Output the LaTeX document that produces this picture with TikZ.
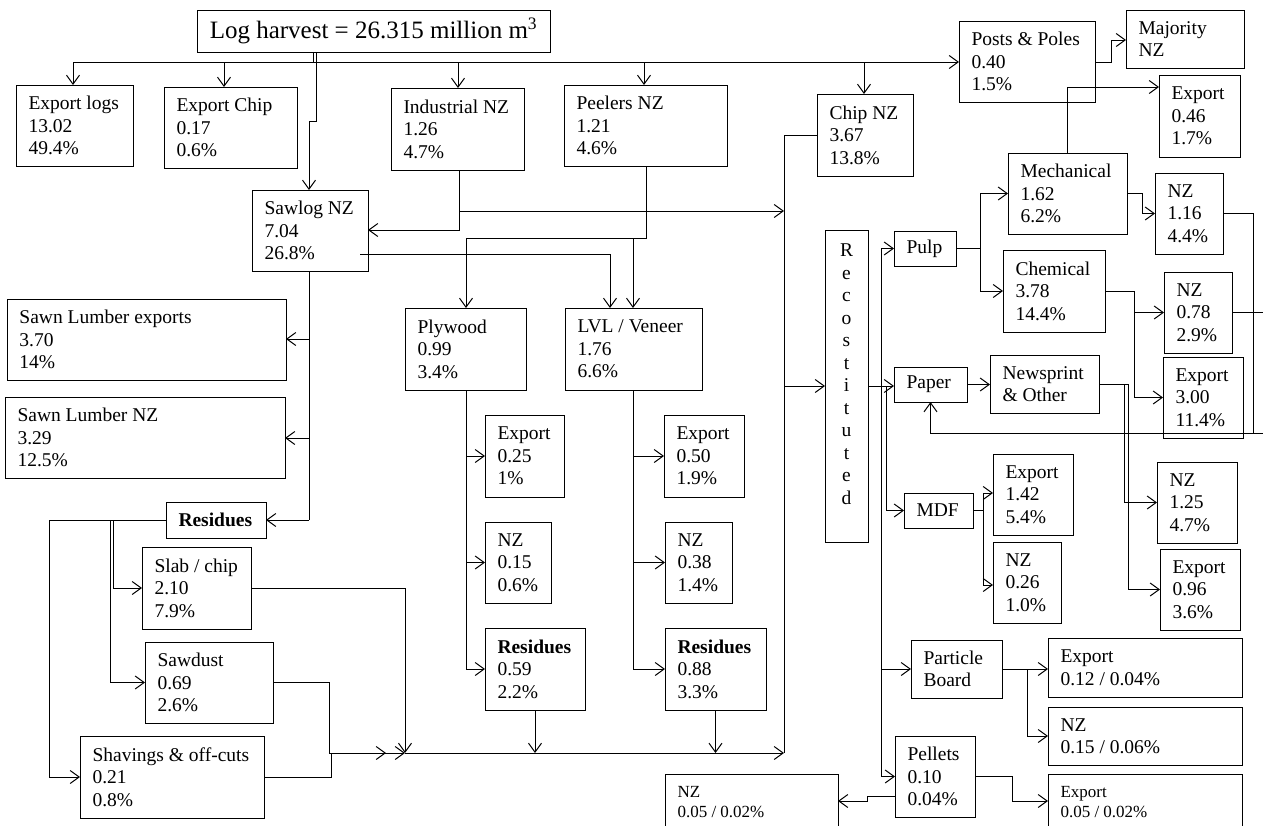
\documentclass[tikz,border=0pt]{standalone}
\usepackage{fontspec}
\setmainfont{Liberation Serif}
\usetikzlibrary{arrows.meta,fit,calc}
\newcommand\fsz{\fontsize{19.5}{22.5}\selectfont}
\newcommand\fsm{\fontsize{17}{20}\selectfont}
\newcommand\bx[7][]{\node[rect,fit={(#3,#4)(#5,#6)}] (#2) {};
  \node[lbl,#1] at ($(#2.west)+(12,0)$) {#7};}
\begin{document}
\begin{tikzpicture}[x=1pt,y=-1pt,line width=1pt,
  rect/.style={draw,inner sep=0pt,outer sep=0pt},
  lbl/.style={anchor=west,align=left,inner sep=0pt,font=\fsz},
  arr/.style={-{Straight Barb[length=9pt,width=13pt]}}]
\fill[white] (0,0) rectangle (1263,825);
\clip (0,0) rectangle (1263,825);
% ---- nodes
\node[rect,fit={(197,10)(550,52)}] (title) {};
\node[font=\fontsize{25}{28}\selectfont,inner sep=0pt] at (title.center) {Log harvest = 26.315 million m\textsuperscript{3}};
\bx{elog}{16}{85}{133}{166}{Export logs\\13.02\\49.4\%}
\bx{echip}{164}{87}{297}{168}{Export Chip\\0.17\\0.6\%}
\bx{ind}{391}{88}{524}{170}{Industrial NZ\\1.26\\4.7\%}
\bx{peel}{564}{85}{727}{166}{Peelers NZ\\1.21\\4.6\%}
\bx{chip}{817}{94}{913}{176}{Chip NZ\\3.67\\13.8\%}
\bx{posts}{959}{21}{1095}{102}{Posts \& Poles\\0.40\\1.5\%}
\bx{maj}{1126}{10}{1244}{68}{Majority\\NZ}
\bx{saw}{252}{190}{368}{271}{Sawlog NZ\\7.04\\26.8\%}
\bx{slexp}{7}{299}{286}{380}{Sawn Lumber exports\\3.70\\14\%}
\bx{slnz}{5}{397}{285}{478}{Sawn Lumber NZ\\3.29\\12.5\%}
\bx[font=\fsz\bfseries]{res}{166}{502}{266}{538}{Residues}
\bx{slab}{142}{547}{251}{629}{Slab / chip\\2.10\\7.9\%}
\bx{sawd}{145}{642}{273}{723}{Sawdust\\0.69\\2.6\%}
\bx{shav}{80}{736}{264}{818}{Shavings \& off-cuts\\0.21\\0.8\%}
\bx{ply}{405}{308}{526}{390}{Plywood\\0.99\\3.4\%}
\bx{lvl}{565}{308}{702}{390}{LVL / Veneer\\1.76\\6.6\%}
\bx{plyexp}{485}{415}{564}{497}{Export\\0.25\\1\%}
\bx{plynz}{485}{522}{551}{603}{NZ\\0.15\\0.6\%}
\bx{plyres}{485}{628}{585}{710}{\textbf{Residues}\\0.59\\2.2\%}
\bx{lvlexp}{664}{415}{744}{497}{Export\\0.50\\1.9\%}
\bx{lvlnz}{665}{522}{732}{603}{NZ\\0.38\\1.4\%}
\bx{lvlres}{665}{628}{766}{710}{\textbf{Residues}\\0.88\\3.3\%}
\node[rect,fit={(825,230)(868,542)}] (recon) {};
\node[font=\fsz,align=center,inner sep=0pt] at (846.5,374) {R\\e\\c\\o\\s\\t\\i\\t\\u\\t\\e\\d};
\bx{pulp}{894}{231}{956}{266}{Pulp}
\bx{paper}{894}{367}{967}{402}{Paper}
\bx{mdf}{904}{493}{973}{528}{MDF}
\bx{pb}{911}{640}{1002}{698}{Particle\\Board}
\bx{pel}{895}{736}{975}{817}{Pellets\\0.10\\0.04\%}
\bx{mech}{1008}{153}{1127}{234}{Mechanical\\1.62\\6.2\%}
\bx{chem}{1003}{250}{1105}{332}{Chemical\\3.78\\14.4\%}
\bx{news}{990}{355}{1099}{413}{Newsprint\\\& Other}
\bx{mexp}{1159}{75}{1240}{157}{Export\\0.46\\1.7\%}
\bx{mnz}{1155}{173}{1223}{254}{NZ\\1.16\\4.4\%}
\bx{cnz}{1164}{272}{1232}{353}{NZ\\0.78\\2.9\%}
\bx{cexp}{1163}{357}{1243}{438}{Export\\3.00\\11.4\%}
\bx{nnz}{1157}{462}{1237}{543}{NZ\\1.25\\4.7\%}
\bx{nexp}{1160}{549}{1240}{630}{Export\\0.96\\3.6\%}
\bx{mdfexp}{993}{454}{1073}{535}{Export\\1.42\\5.4\%}
\bx{mdfnz}{993}{542}{1061}{623}{NZ\\0.26\\1.0\%}
\bx{pbexp}{1048}{638}{1242}{697}{Export\\0.12 / 0.04\%}
\bx{pbnz}{1048}{707}{1242}{765}{NZ\\0.15 / 0.06\%}
\bx[font=\fsm]{pelexp}{1048}{774}{1242}{830}{Export\\0.05 / 0.02\%}
\bx[font=\fsm]{pelnz}{665}{774}{838}{830}{NZ\\0.05 / 0.02\%}
% ---- connectors from log harvest
\coordinate (bus) at (316,62);
\draw (title.south -| 313,0) -- (313,62);
\draw (title.south -| 316,0) -- (bus);
\draw[arr] (bus) -| (elog.north -| 73,0);
\draw[arr] (bus) -| (echip.north -| 224,0);
\draw[arr] (bus) -| (ind.north -| 458,0);
\draw[arr] (bus) -| (peel.north -| 644,0);
\draw[arr] (bus) -| (chip.north -| 864,0);
\draw[arr] (bus) -- (posts.west |- bus);
\draw[arr] (bus) -- (316,121) -- (309,121) -- (saw.north -| 309,0);
\draw[arr] (posts.east |- bus) -- (1111,62) -- (1111,40) -- (maj.west |- 0,40);
% industrial / peelers / sawlog
\draw[arr] (ind.south -| 459,0) -- (459,230) -- (saw.east |- 0,230);
\coordinate (rv) at (784,211);
\draw[arr] (459,211) -- (rv);
\draw[arr] (peel.south -| 646,0) -- (646,238) -| (ply.north -| 466,0);
\draw[arr] (633,238) -- (lvl.north -| 633,0);
\draw[arr] ($(saw.east |- 0,254)+(-8,0)$) -| (lvl.north -| 610,0);
\draw (saw.south -| 309,0) -- (309,520);
\draw[arr] (309,339) -- (slexp.east |- 0,339);
\draw[arr] (309,438) -- (slnz.east |- 0,438);
\draw[arr] (309,520) -- (res.east);
% residues
\draw[arr] (res.west) -- (49,520) |- (shav.west);
\draw[arr] (113,520) |- (slab.west);
\draw[arr] (110,520) |- (sawd.west);
\coordinate (bl) at (405,753);
\coordinate (br) at (784,753);
\draw[arr] (slab.east) -| (bl);
\draw[arr] (sawd.east) -| (329,753) -- (386,753);
\draw[arr] (shav.east) -| (331,753) -- (bl);
\draw[arr] (bl) -- (br);
\draw[arr] (plyres.south) -- (plyres.south |- br);
\draw[arr] (lvlres.south) -- (lvlres.south |- br);
% plywood / lvl
\draw (ply.south -| 466,0) -- (466,669);
\draw[arr] (466,456) -- (plyexp.west);
\draw[arr] (466,562.5) -- (plynz.west);
\draw[arr] (466,669) -- (plyres.west);
\draw (lvl.south -| 633,0) -- (633,669);
\draw[arr] (633,456) -- (lvlexp.west);
\draw[arr] (633,562.5) -- (lvlnz.west);
\draw[arr] (633,669) -- (lvlres.west);
% reconstituted
\draw (chip.west) -- (784,135) -- (br);
\draw[arr] (784,386) -- (recon.west);
\draw (recon.east) -- (881,386);
\draw[arr] (881,386) |- (pulp.west);
\draw[arr] (recon.east) -- (paper.west |- recon.east);
\draw[arr] (886,386) |- (mdf.west);
\draw[arr] (881,386) |- (pb.west);
\draw[arr] (881,386) |- (pel.west);
% pulp
\draw (pulp.east) -- (980,248.5);
\draw[arr] (980,248.5) |- (mech.west);
\draw[arr] (980,248.5) |- (chem.west);
\draw[arr] (mech.north -| 1067,0) |- (mexp.west |- 0,87);
\draw[arr] (mech.east |- 0,193) -- (1142,193) |- (mnz.west);
\draw[arr] (chem.east) -- (1134,291) |- (cnz.west);
\draw[arr] (1134,291) |- (cexp.west);
\draw (mnz.east) -- (1253,213.5) -- (1253,433);
\draw (cnz.east) -- (1263,312.5);
\draw[arr] (1263,433) -| (paper.south);
% paper
\draw[arr] (paper.east) -- (news.west |- paper.east);
\draw[arr] (news.east) -- (1128,384) |- (nexp.west);
\draw[arr] (1124,384) |- (nnz.west);
% mdf
\draw (mdf.east) -- (983,510.5);
\draw[arr] (983,510.5) |- (mdfexp.west |- 0,493);
\draw[arr] (983,510.5) |- (mdfnz.west |- 0,585);
% particle board
\draw[arr] (pb.east) -- (pbexp.west |- pb.east);
\draw[arr] (1027,669) |- (pbnz.west);
% pellets
\draw[arr] (pel.east |- 0,776) -- (1012,776) -- (1012,801) -- (pelexp.west |- 0,801);
\draw[arr] (pel.west |- 0,796) -- (867,796) -- (867,801) -- (pelnz.east |- 0,801);
\end{tikzpicture}
\end{document}
